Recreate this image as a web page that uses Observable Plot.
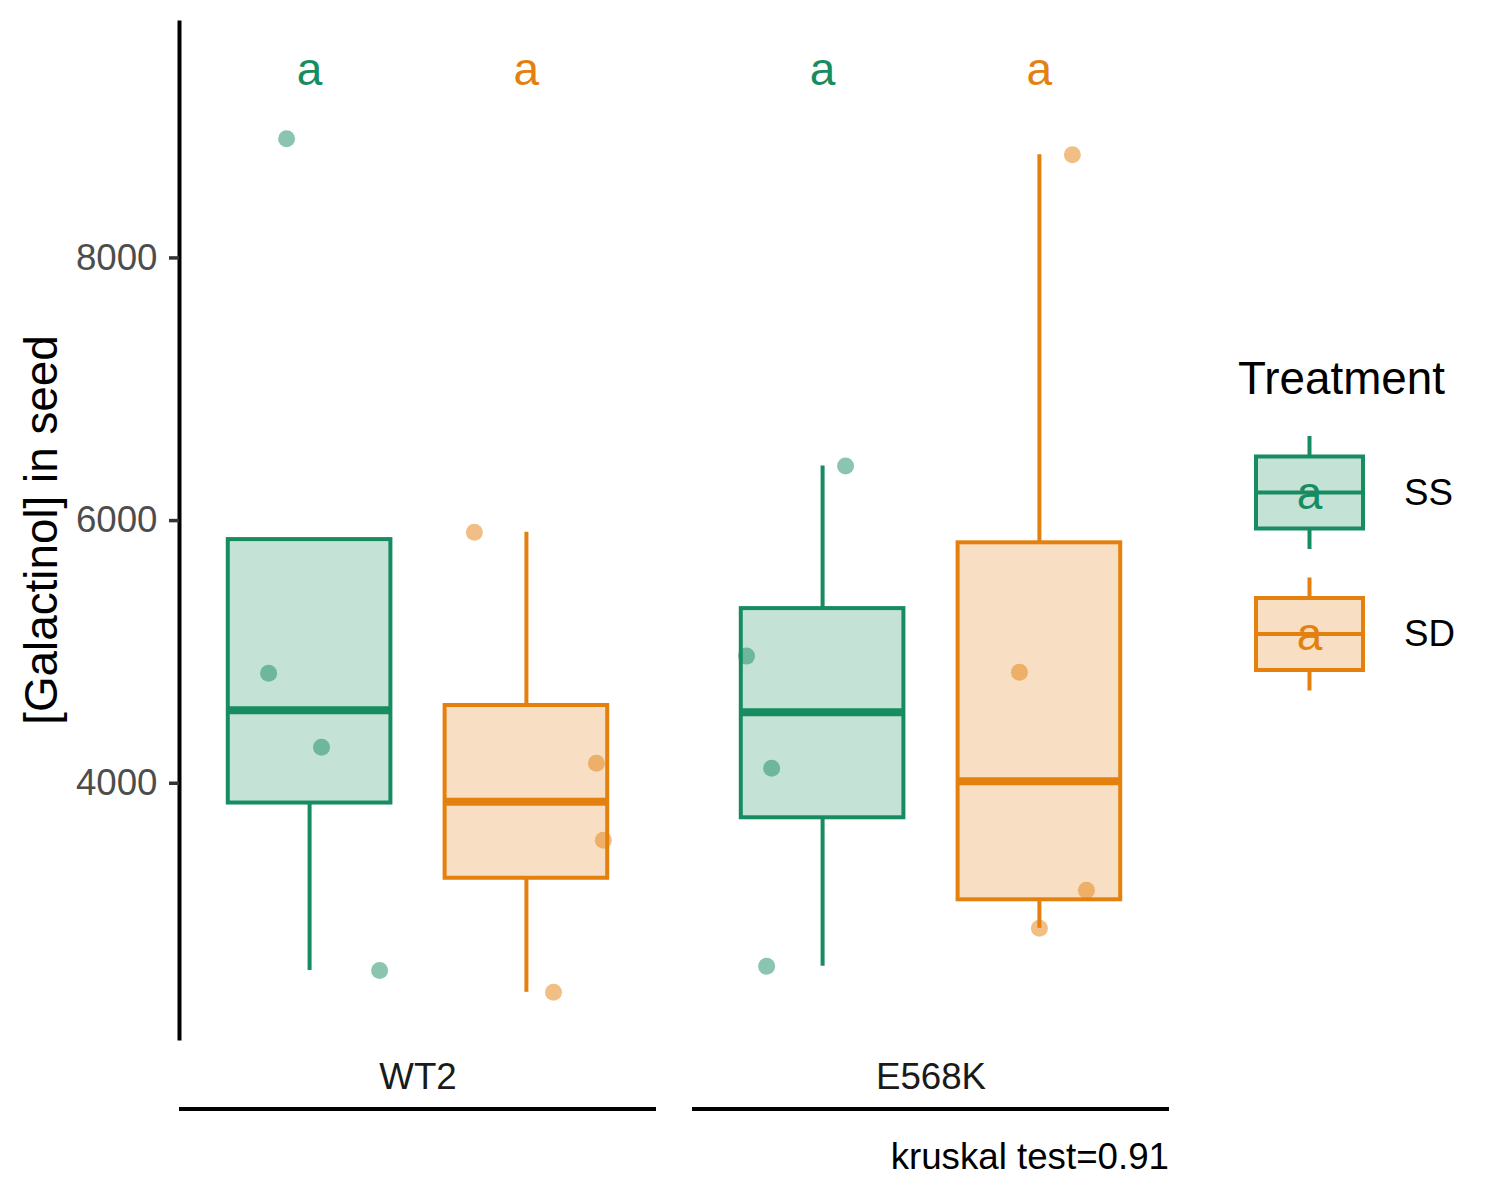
<!DOCTYPE html>
<html>
<head>
<meta charset="utf-8">
<script src="https://cdn.jsdelivr.net/npm/d3@7"></script>
<script src="https://cdn.jsdelivr.net/npm/@observablehq/plot@0.6"></script>
<style>
  html, body { margin: 0; padding: 0; background: #ffffff; }
  #chart svg { display: block; }
</style>
</head>
<body>
<div id="chart"></div>
<script>
// ---------------- data ----------------
const genotypes = ["WT2", "E568K"];
const treatments = ["SS", "SD"];
const treatmentColors = ["#178c60", "#e4800e"];

const galactinolWT2SS = [8907, 4838, 4274, 2575];
const galactinolWT2SD = [5912, 4152, 3566, 2408];
const galactinolE568KSS = [6415, 4968, 4114, 2606];
const galactinolE568KSD = [8785, 4846, 3185, 2895];

// horizontal jitter of each sample point (in category units)
const jitterWT2SS = [-0.106, -0.189, 0.055, 0.323];
const jitterWT2SD = [-0.240, 0.323, 0.355, 0.125];
const jitterE568KSS = [0.106, -0.351, -0.235, -0.258];
const jitterE568KSD = [0.152, -0.092, 0.217, 0.000];

// significance letters: WT2-SS, WT2-SD, E568K-SS, E568K-SD
const groupLetters = ["a", "a", "a", "a"];
const letterY = 9441;

const yTicks = [4000, 6000, 8000];
const yLabel = "[Galactinol] in seed";
const legendTitle = "Treatment";
const kruskalLabel = "kruskal test=0.91";

// ---------------- build tables ----------------
const groups = [
  {genotype: "WT2", treatment: "SS", values: galactinolWT2SS, jitter: jitterWT2SS, letter: groupLetters[0]},
  {genotype: "WT2", treatment: "SD", values: galactinolWT2SD, jitter: jitterWT2SD, letter: groupLetters[1]},
  {genotype: "E568K", treatment: "SS", values: galactinolE568KSS, jitter: jitterE568KSS, letter: groupLetters[2]},
  {genotype: "E568K", treatment: "SD", values: galactinolE568KSD, jitter: jitterE568KSD, letter: groupLetters[3]}
];

const points = [];
const stats = [];
for (const g of groups) {
  const idx = treatments.indexOf(g.treatment) + 1;
  g.values.forEach((v, i) => points.push({genotype: g.genotype, treatment: g.treatment, idx, value: v, jitter: g.jitter[i]}));
  const s = g.values.slice().sort(d3.ascending);
  const q1 = d3.quantile(s, 0.25), med = d3.quantile(s, 0.5), q3 = d3.quantile(s, 0.75);
  const iqr = q3 - q1;
  const lo = d3.min(s.filter(v => v >= q1 - 1.5 * iqr));
  const hi = d3.max(s.filter(v => v <= q3 + 1.5 * iqr));
  stats.push({genotype: g.genotype, treatment: g.treatment, idx, q1, med, q3, lo: Math.min(lo, q1), hi: Math.max(hi, q3), letter: g.letter});
}

const allY = points.map(d => d.value).concat([letterY]);
const [yMin, yMax] = d3.extent(allY);
const yPad = (yMax - yMin) * 0.05;

const W = 1500, H = 1200;
const mL = 179, mR = 330, mT = 22, mB = 162;
const boxHalf = 0.375;
const font = "'Liberation Sans', Arial, Helvetica, sans-serif";

const chart = Plot.plot({
  width: W,
  height: H,
  marginLeft: mL,
  marginRight: mR,
  marginTop: mT,
  marginBottom: mB,
  style: {fontFamily: font, background: "#ffffff", overflow: "visible"},
  fx: {domain: genotypes, paddingInner: 0.07, paddingOuter: 0, axis: null, label: null},
  x: {domain: [0.4, 2.6], axis: null},
  y: {domain: [yMin - yPad, yMax + yPad], axis: null},
  color: {domain: treatments, range: treatmentColors},
  marks: [
    Plot.frame({anchor: "left", facetAnchor: "left", stroke: "#000000", strokeWidth: 4}),
    Plot.axisY({ticks: yTicks, tickSize: 10, tickPadding: 12, fontSize: 36.7, label: null,
                stroke: "#333333", strokeWidth: 3.5, fill: "#4d4d4d", tickFormat: d => String(d)}),
    Plot.axisFx({anchor: "bottom", tickSize: 0, tickPadding: 24, fontSize: 36.7, label: null, fill: "#1a1a1a"}),
    // whiskers
    Plot.ruleX(stats, {fx: "genotype", x: "idx", y1: "q3", y2: "hi", stroke: "treatment", strokeWidth: 4}),
    Plot.ruleX(stats, {fx: "genotype", x: "idx", y1: "lo", y2: "q1", stroke: "treatment", strokeWidth: 4}),
    // boxes
    Plot.rect(stats, {fx: "genotype", x1: d => d.idx - boxHalf, x2: d => d.idx + boxHalf, y1: "q1", y2: "q3",
                      fill: "treatment", fillOpacity: 0.25, stroke: "treatment", strokeWidth: 4}),
    // medians
    Plot.ruleY(stats, {fx: "genotype", y: "med", x1: d => d.idx - boxHalf, x2: d => d.idx + boxHalf,
                       stroke: "treatment", strokeWidth: 8}),
    // jittered samples
    Plot.dot(points, {fx: "genotype", x: d => d.idx + d.jitter, y: "value", r: 8.5,
                      fill: "treatment", fillOpacity: 0.5, stroke: null}),
    // letters
    Plot.text(stats, {fx: "genotype", x: "idx", y: () => letterY, text: "letter", fill: "treatment",
                      fontSize: 46, lineAnchor: "middle", dy: 2})
  ]
});

document.getElementById("chart").appendChild(chart);

// ---------------- decorations (strip lines, titles, legend) ----------------
const svg = d3.select(chart);
const fx = chart.scale("fx");
const bw = fx.bandwidth;

const stripY = H - mB + 71;
genotypes.forEach(g => {
  const x0 = fx.apply(g);
  svg.append("line")
    .attr("x1", x0).attr("x2", x0 + bw)
    .attr("y1", stripY).attr("y2", stripY)
    .attr("stroke", "#000").attr("stroke-width", 4);
});

// caption
const rightEdge = fx.apply(genotypes[genotypes.length - 1]) + bw;
svg.append("text")
  .attr("x", rightEdge).attr("y", 1169)
  .attr("text-anchor", "end")
  .attr("font-size", 36.7)
  .attr("fill", "#000")
  .text(kruskalLabel);

// y axis title
svg.append("text")
  .attr("transform", `translate(57,${(mT + (H - mB)) / 2}) rotate(-90)`)
  .attr("text-anchor", "middle")
  .attr("font-size", 45.8)
  .attr("fill", "#000")
  .text(yLabel);

// legend
const leg = svg.append("g");
leg.append("text")
  .attr("x", 1238).attr("y", 394)
  .attr("text-anchor", "start")
  .attr("font-size", 45.8).attr("fill", "#000")
  .text(legendTitle);

const keyCenters = [492.5, 634];
treatments.forEach((t, i) => {
  const c = keyCenters[i];
  const col = treatmentColors[i];
  const kx0 = 1256, kx1 = 1363, kxm = (kx0 + kx1) / 2;
  // whisker segments outside box
  leg.append("line").attr("x1", kxm).attr("x2", kxm).attr("y1", c - 56.5).attr("y2", c - 36)
    .attr("stroke", col).attr("stroke-width", 4);
  leg.append("line").attr("x1", kxm).attr("x2", kxm).attr("y1", c + 36).attr("y2", c + 56.5)
    .attr("stroke", col).attr("stroke-width", 4);
  leg.append("rect").attr("x", kx0).attr("y", c - 36).attr("width", kx1 - kx0).attr("height", 72)
    .attr("fill", col).attr("fill-opacity", 0.25).attr("stroke", col).attr("stroke-width", 4);
  leg.append("line").attr("x1", kx0).attr("x2", kx1).attr("y1", c).attr("y2", c)
    .attr("stroke", col).attr("stroke-width", 4);
  leg.append("text").attr("x", kxm).attr("y", c + 16).attr("text-anchor", "middle")
    .attr("font-size", 46).attr("fill", col).text(stats[i].letter);
  leg.append("text").attr("x", 1404).attr("y", c + 12).attr("text-anchor", "start")
    .attr("font-size", 36.7).attr("fill", "#000").text(t);
});
</script>
</body>
</html>
